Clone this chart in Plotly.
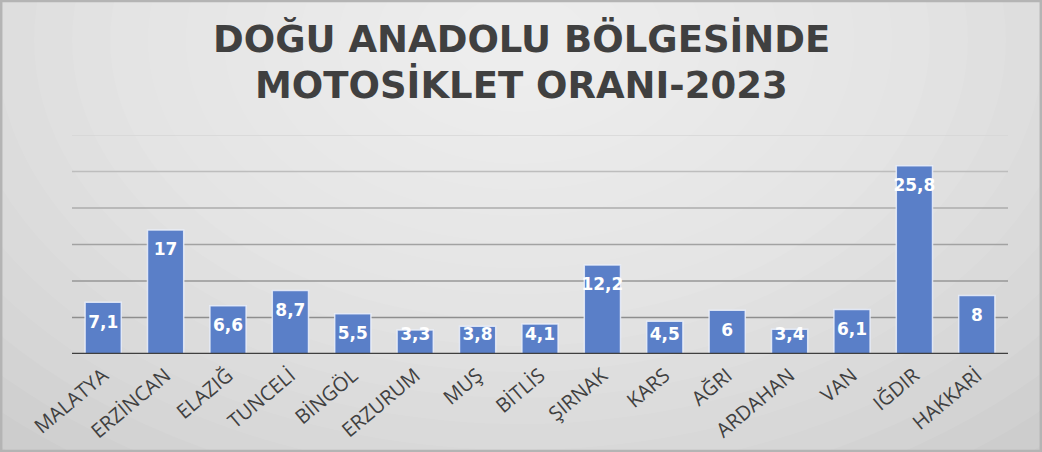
import numpy as np
import plotly.graph_objects as go

categories = ["MALATYA", "ERZİNCAN", "ELAZIĞ", "TUNCELİ", "BİNGÖL", "ERZURUM", "MUŞ",
              "BİTLİS", "ŞIRNAK", "KARS", "AĞRI", "ARDAHAN", "VAN", "IĞDIR", "HAKKARİ"]
values = [7.1, 17, 6.6, 8.7, 5.5, 3.3, 3.8, 4.1, 12.2, 4.5, 6, 3.4, 6.1, 25.8, 8]
grid_values = [5, 10, 15, 20, 25, 30]
title_lines = ["DOĞU ANADOLU BÖLGESİNDE", "MOTOSİKLET ORANI-2023"]

W, H = 1042, 452
ML, MR, MT, MB = 72, 34, 135, 98
pw, ph = W - ML - MR, H - MT - MB

vals = np.array(values, dtype=float)
label_y = np.maximum(vals - 2.9, 2.5)
label_text = [("%g" % v).replace(".", ",") for v in values]

fig = go.Figure()
fig.add_trace(go.Bar(
    x=categories, y=values,
    marker=dict(color="#5a7fc8", line=dict(color="rgba(235,240,250,0.85)", width=1.5)),
    hoverinfo="skip", showlegend=False,
))
fig.add_trace(go.Scatter(
    x=categories, y=label_y, mode="text", text=label_text,
    textposition="middle center",
    textfont=dict(family="DejaVu Sans", size=17, color="white", weight="bold"),
    hoverinfo="skip", showlegend=False,
))

shapes = []
# background radial-ish gradient (style only)
cx, cy = (520 - ML) / pw, (H - MB - 40) / ph
n = 20
for i in range(n):
    f = 1 - i / n
    rx, ry = 760 * f + 30, 520 * f + 20
    shapes.append(dict(type="circle", xref="paper", yref="paper", layer="below",
                       x0=cx - rx / pw, x1=cx + rx / pw, y0=cy - ry / ph, y1=cy + ry / ph,
                       fillcolor="rgba(255,255,255,0.07)", line=dict(width=0)))
# gridlines, lighter toward the top
grid_cols = ["#8e8e8e", "#979797", "#a2a2a2", "#adadad", "#bdbdbd", "#d6d6d6"]
for gv, gc in zip(grid_values, grid_cols):
    shapes.append(dict(type="line", xref="paper", yref="y", x0=0, x1=1, y0=gv, y1=gv,
                       layer="below", line=dict(color=gc, width=1.5)))
# baseline
shapes.append(dict(type="line", xref="paper", yref="y", x0=0, x1=1, y0=0, y1=0,
                   layer="above", line=dict(color="#3f3f3f", width=2.5)))
# outer frame
shapes.append(dict(type="rect", xref="paper", yref="paper",
                   x0=-ML / pw + 0.001, x1=1 + MR / pw - 0.001,
                   y0=-MB / ph + 0.003, y1=1 + MT / ph - 0.003,
                   layer="below", line=dict(color="#b4b4b4", width=3), fillcolor="rgba(0,0,0,0)"))

# title as two annotations (bottom of text box in pixels from top)
title_bottoms = [63, 109]
annotations = []
for txt, bpx in zip(title_lines, title_bottoms):
    annotations.append(dict(text=txt, xref="paper", yref="paper",
                            x=(521 - ML) / pw, y=(H - MB - bpx) / ph,
                            xanchor="center", yanchor="bottom", showarrow=False,
                            font=dict(family="DejaVu Sans", size=37, color="#404040", weight="bold")))

fig.update_layout(
    width=W, height=H,
    margin=dict(l=ML, r=MR, t=MT, b=MB, autoexpand=False),
    paper_bgcolor="#cacaca", plot_bgcolor="rgba(0,0,0,0)",
    bargap=0.42,
    shapes=shapes,
    annotations=annotations,
    xaxis=dict(range=[-0.5, len(categories) - 0.5], tickangle=-40, showgrid=False,
               showline=False, ticks="outside", ticklen=1,
               tickcolor="rgba(0,0,0,0)", automargin=False,
               tickfont=dict(family="Open Sans", size=20, color="#404040")),
    yaxis=dict(range=[0, 30], showgrid=False, zeroline=False, showticklabels=False,
               ticks="", showline=False, automargin=False),
)
fig.write_html("out.html", config={"displayModeBar": False},
               post_script="document.body.style.margin='0';document.body.style.overflow='hidden';")
